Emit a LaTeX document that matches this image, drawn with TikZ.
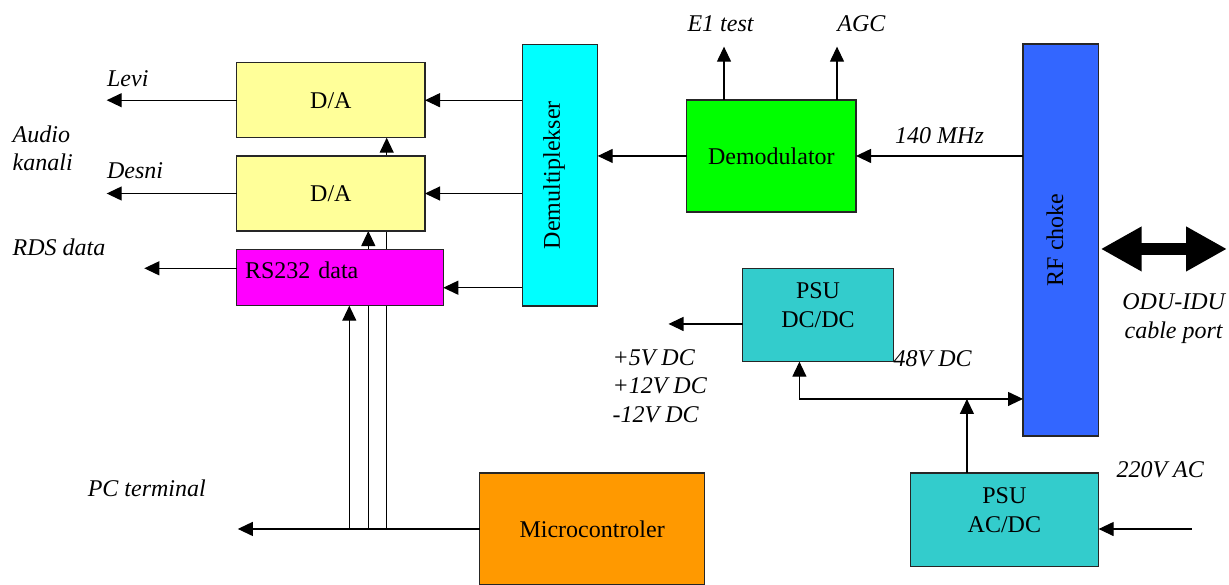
\documentclass[tikz,border=0pt]{standalone}
\usepackage{graphicx}
\usepackage{fontspec}
\setmainfont{Liberation Serif}
\usetikzlibrary{positioning,arrows.meta,backgrounds}
\definecolor{dayellow}{HTML}{FFFF99}
\definecolor{rsmagenta}{HTML}{FF00FF}
\definecolor{muxcyan}{HTML}{00FFFF}
\definecolor{demodgreen}{HTML}{00FF00}
\definecolor{rfblue}{HTML}{3366FF}
\definecolor{psuteal}{HTML}{33CCCC}
\definecolor{mcuorange}{HTML}{FF9900}

\begin{document}
\begin{tikzpicture}[
    x=0.5pt, y=-0.5pt,
    >={Triangle[length=7.5pt,width=7pt]},
    every node/.style={font=\fontsize{12}{14.3}\selectfont},
    unit/.style={
        draw=black!85, fill=#1, line width=0.6pt,
        align=center, inner sep=2pt, outer sep=0pt
    },
    sig/.style={font=\fontsize{12}{14.3}\selectfont\itshape, inner sep=0pt},
    arr/.style={->, line width=0.6pt},
    bigarr/.style={
        {Triangle[length=20.5pt,width=21pt]}-{Triangle[length=20.5pt,width=21pt]},
        line width=6.25pt
    },
]
\useasboundingbox (0,0) rectangle (1229,584);

% Audio converters and RS232
\node[unit=dayellow, minimum width=94.15pt, minimum height=37.5pt] (da1) at (330.85,100.2) {D/A};
\node[unit=dayellow, minimum width=94.15pt, minimum height=37.5pt, below=9.15pt of da1] (da2) {D/A};
\node[unit=rsmagenta, minimum width=103.3pt, minimum height=28.2pt, text width=95pt, align=left,
      inner xsep=4.15pt, text depth=7.5pt, below=9.15pt of da2.south west, anchor=north west] (rs) {RS232 data};

% Demux, demodulator, RF choke
\node[unit=muxcyan, minimum width=37.7pt, minimum height=130.85pt,
      right=48.65pt of da1.north east, anchor=north west, yshift=9.2pt] (demux)
    {\rotatebox{90}{\raisebox{3pt}[\height][\depth]{Demultiplekser}}};
\node[unit=demodgreen, minimum width=84.65pt, minimum height=56pt, right=44.5pt of demux, yshift=9.6pt] (demod) {Demodulator};
\node[unit=rfblue, minimum width=37.8pt, minimum height=196pt, right=83.5pt of demod, yshift=-42pt] (rf)
    {\rotatebox{90}{\raisebox{3pt}[\height][\depth]{RF choke}}};

% Power supplies and controller
\node[unit=psuteal, minimum width=75.3pt, minimum height=46.7pt, text depth=10pt,
      below=28.15pt of demod.south west, anchor=north west, xshift=28pt] (psudc) {PSU\\DC/DC};
\node[unit=psuteal, minimum width=94.25pt, minimum height=46.85pt, text depth=9.5pt,
      below=18.5pt of rf.south east, anchor=north east] (psuac) {PSU\\AC/DC};
\node[unit=mcuorange, minimum width=112.35pt, minimum height=56pt,
      left=102.8pt of psuac.north west, anchor=north east] (mcu) {Microcontroler};

% Free ends
\coordinate[left=65pt of da1.west] (levi);
\coordinate[left=65pt of da2.west] (desni);
\coordinate[left=46.2pt of rs.west, yshift=4.6pt] (rds);
\coordinate[left=121pt of mcu.west] (pcterm);
\coordinate[above=26.65pt of demod.north west, xshift=18.65pt] (e1);
\coordinate[above=26.65pt of demod.north west, xshift=75.15pt] (agc);
\coordinate[left=37.1pt of psudc.west, yshift=-4.5pt] (dcout);
\coordinate[above=37pt of psuac.north west, xshift=28.4pt] (tap);
\coordinate[right=46.5pt of psuac.east, yshift=-4.6pt] (acin);
\coordinate[right=64.2pt of rf.east, yshift=-4.5pt] (odu);

% Signal path
\draw[arr] (da1.west) -- (levi);
\draw[arr] (da2.west) -- (desni);
\draw[arr] ([yshift=4.6pt]rs.west) -- (rds);
\draw[arr] (demux.west |- da1.east) -- (da1.east);
\draw[arr] (demux.west |- da2.east) -- (da2.east);
\draw[arr] ([yshift=-5.1pt]demux.west |- rs.east) -- ([yshift=-5.1pt]rs.east);
\draw[arr] (demod.west) -- (demux.east |- demod.west);
\draw[arr] (rf.west |- demod.east) -- node[sig, midway, anchor=base, yshift=6.35pt] (mhz) {140 MHz} (demod.east);
\draw[arr] (demod.north -| e1) -- (e1);
\draw[arr] (demod.north -| agc) -- (agc);
\draw[bigarr] ([xshift=1.05pt,yshift=-4.5pt]rf.east) -- (odu);

% Power distribution
\draw[arr] (psudc.west |- dcout) -- (dcout);
\draw[arr] (psuac.north -| tap) -- (tap);
\draw[arr] (tap) -- (tap -| rf.west);
\draw[arr] (tap) -| ([xshift=28.35pt]psudc.south west);
\draw[arr] (acin) -- (psuac.east |- acin);

% Controller lines
\draw[arr] (mcu.west) -- (pcterm);
\begin{scope}[on background layer]
\draw[arr] ([xshift=56.3pt]da1.south west |- mcu.west) -- ([xshift=56.3pt]rs.south west);
\draw[arr] ([xshift=65.8pt]da1.south west |- mcu.west) -- ([xshift=65.8pt]da2.south west);
\draw[arr] ([xshift=75pt]da1.south west |- mcu.west) -- ([xshift=75pt]da1.south west);
\end{scope}

% Labels
\node[sig, above=7pt of levi, anchor=base west] (levitxt) {Levi};
\node[sig, above=7.5pt of desni, anchor=base west] (desnitxt) {Desni};
\node[sig, align=left, anchor=north west] (audio) at (12.3,125.3) {Audio\\kanali};
\node[sig, above left=6.65pt and 66pt of rds, anchor=base west] (rdstxt) {RDS data};
\node[sig, above left=16.15pt and 75.2pt of pcterm, anchor=base west] (pctxt) {PC terminal};
\node[sig, above=7.5pt of e1, anchor=base, xshift=-1.75pt] (e1txt) {E1 test};
\node[sig, above=7.5pt of agc, anchor=base west] (agctxt) {AGC};
\node[sig, align=left, below left=12.5pt and 28.15pt of dcout, anchor=north west] (dcvolts) {+5V DC\\+12V DC\\-12V DC};
\node[sig, below=2.5pt of psudc.south east, anchor=base west] (v48) {48V DC};
\node[sig, below right=2.5pt and 8.75pt of psuac.north east, anchor=base west] (v220) {220V AC};
\node[sig, align=center, below right=26.75pt and 37.5pt of rf.east, anchor=north] (odutxt) {ODU-IDU\\cable port};

\end{tikzpicture}
\end{document}
